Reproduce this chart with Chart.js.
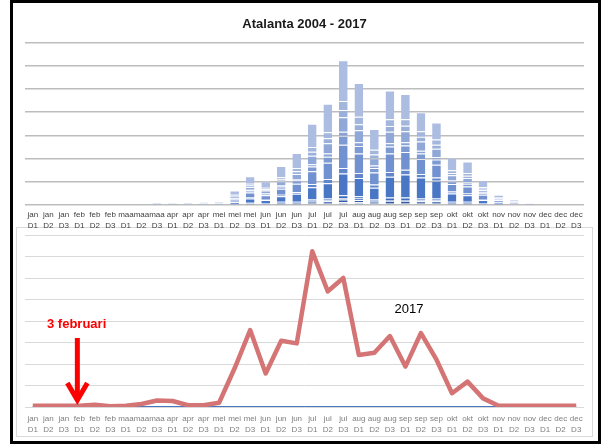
<!DOCTYPE html>
<html>
<head>
<meta charset="utf-8">
<script src="https://cdn.jsdelivr.net/npm/chart.js@4.4.1/dist/chart.umd.min.js"></script>
<style>
  html, body { margin: 0; padding: 0; background: #fff; }
  body { width: 605px; height: 444px; position: relative; overflow: hidden; }
  #frame { position: absolute; left: 10px; top: 0; width: 591px; height: 444px; border: 3px solid #000; box-sizing: border-box; }
  #topWrap { position: absolute; left: 0; top: 0; width: 605px; height: 232px; }
  #bottomWrap { position: absolute; left: 16px; top: 227px; width: 577px; height: 210px; border: 1px solid #d9d9d9; box-sizing: border-box; background: #fff; }
  #bottomWrap canvas { position: absolute; left: 0; top: 0; }
</style>
</head>
<body>
<div id="frame"></div>
<div id="bottomWrap"><canvas id="lineChart" width="575" height="208"></canvas></div>
<div id="topWrap"><canvas id="barChart" width="605" height="232"></canvas></div>
<script>
// categories: month + decade
const months = ['jan', 'feb', 'maa', 'apr', 'mei', 'jun', 'jul', 'aug', 'sep', 'okt', 'nov', 'dec'];
const decades = ['D1', 'D2', 'D3'];
const labels = [];
months.forEach(m => decades.forEach(d => labels.push([m, d])));

// top chart: counts per decade, one series per year (stacked, 2004 at the bottom)
const years = ['2004', '2005', '2006', '2007', '2008', '2009', '2010', '2011', '2012', '2013', '2014', '2015', '2016', '2017'];
const y2004 = [0,0,0,0,0,0, 0,0,0,0,0,0,0, 0,1,0,1,1,2,2,3,3,2,2,2,2,2,1,1,0,0,0,0, 0,0,0];
const y2005 = [0,0,0,0,0,0, 0,0,0,0,0,0,0, 0,1,1,1,1,2,2,3,3,2,2,2,2,2,1,1,1,0,0,0, 0,0,0];
const y2006 = [0,0,0,0,0,0, 0,0,0,0,0,0,0, 1,1,1,2,2,3,4,6,5,3,5,5,4,4,2,2,1,1,0,0, 0,0,0];
const y2007 = [0,0,0,0,0,0, 0,0,0,0,0,0,0, 0,1,0,1,1,2,2,3,3,2,2,2,2,2,1,1,0,0,0,0, 0,0,0];
const y2008 = [0,0,0,0,0,0, 0,0,0,0,0,0,0, 1,1,1,2,2,3,4,6,5,3,5,5,4,4,2,2,1,0,0,0, 0,0,0];
const y2009 = [0,0,0,0,0,0, 0,0,1,1,0,1,1, 4,9,8,12,17,26,33,47,39,25,45,50,45,38,18,14,8,4,2,1, 0,0,0];
const y2010 = [0,0,0,0,0,0, 0,0,0,0,0,0,0, 1,3,2,3,4,7,9,12,11,7,10,10,8,7,4,4,2,1,0,0, 0,0,0];
const y2011 = [0,0,0,0,0,0, 0,1,1,1,1,1,1, 5,10,8,13,18,28,35,50,42,26,40,38,32,28,16,15,9,4,2,1, 0,0,0];
const y2012 = [0,0,0,0,0,0, 0,0,0,0,0,0,1, 2,4,3,5,7,10,13,19,16,10,15,14,12,11,6,6,3,1,1,0, 0,0,0];
const y2013 = [0,0,0,0,0,0, 0,0,0,0,0,0,0, 1,2,2,3,3,5,7,9,8,5,7,7,6,5,3,3,2,1,0,0, 0,0,0];
const y2014 = [0,0,0,0,0,0, 0,0,0,1,1,1,1, 3,6,5,8,11,18,22,31,26,16,25,24,20,18,10,9,5,2,1,0, 0,0,0];
const y2015 = [0,0,0,0,0,0, 0,0,0,0,0,0,0, 2,3,3,4,6,9,11,16,13,8,12,12,10,9,5,5,3,1,1,0, 0,0,0];
const y2016 = [0,0,0,0,0,0, 0,0,0,0,0,1,1, 2,4,3,5,7,10,13,19,16,10,15,14,12,11,6,6,3,1,1,0, 0,0,0];
const y2017 = [0,0,0,0,0,0, 1,2,2,2,2,2,2, 9,16,14,24,32,50,61,88,73,45,62,54,41,37,27,25,16,6,3,1, 0,0,0];
const yearSeries = [y2004, y2005, y2006, y2007, y2008, y2009, y2010, y2011, y2012, y2013, y2014, y2015, y2016, y2017];
const yearColors = ['#2a4a88', '#2e5396', '#335ba6', '#3864b4', '#3e6bbf', '#4a76c6', '#6286cb', '#7291d0', '#7e9ad3', '#88a2d6', '#90a8d8', '#9ab0db', '#a3b6de', '#adbde2'];

// bottom chart: 2017 per decade + flat reference line
const line2017 = [0.3,0.3,0.3, 0.3,0.5,0.2, 0.3,0.7,1.5, 1.4,0.4,0.4, 1.0,9.0,17.9, 7.8,15.4,14.8, 36.2,26.9,30.0, 12.1,12.6,16.5, 9.4,17.2,11.0, 3.2,5.9,2.0, 0.3,0.3,0.3, 0.3,0.3,0.3];
const baseLine = [0,0,0, 0,0,0, 0,0,0, 0,0,0, 0,0,0, 0,0,0, 0,0,0, 0,0,0, 0,0,0, 0,0,0, 0,0,0, 0,0,0];

const labelFont = { family: '"Liberation Sans", Arial, sans-serif', size: 8, lineHeight: 1.4 };

new Chart(document.getElementById('barChart'), {
  type: 'bar',
  data: {
    labels: labels,
    datasets: yearSeries.map((d, i) => ({
      label: years[i],
      data: d,
      backgroundColor: yearColors[i],
      borderColor: 'rgba(255,255,255,0.22)',
      borderWidth: { top: 1, left: 0, right: 0, bottom: 0 },
      borderSkipped: false,
      barPercentage: 0.56,
      categoryPercentage: 1
    }))
  },
  options: {
    responsive: false,
    animation: false,
    layout: { padding: { left: 25, right: 21, top: 0, bottom: 0 } },
    plugins: {
      legend: { display: false },
      tooltip: { enabled: false },
      title: {
        display: true,
        text: 'Atalanta 2004 - 2017',
        color: '#1a1a1a',
        font: { family: '"Liberation Sans", sans-serif', size: 13, weight: 'bold' },
        padding: { top: 17, bottom: 10 }
      }
    },
    scales: {
      x: {
        stacked: true,
        grid: { display: false, drawTicks: false },
        border: { display: false },
        ticks: { color: '#404040', font: labelFont, autoSkip: false, maxRotation: 0, padding: 4 },
        afterFit: s => { s.height = 27; }
      },
      y: {
        stacked: true,
        min: 0,
        max: 350,
        ticks: { display: false, stepSize: 50 },
        grid: { color: '#bdbdbd', lineWidth: 1.5, drawTicks: false },
        border: { display: false },
        afterFit: s => { s.width = 0; }
      }
    }
  }
});

const notes = {
  id: 'notes',
  afterDatasetsDraw(chart) {
    const ctx = chart.ctx;
    const ax = chart.scales.x.getPixelForValue(3) - 2;
    ctx.save();
    ctx.strokeStyle = '#ff0000';
    ctx.lineWidth = 5;
    ctx.beginPath();
    ctx.moveTo(ax, 110);
    ctx.lineTo(ax, 170);
    ctx.stroke();
    ctx.lineJoin = 'miter';
    ctx.beginPath();
    ctx.moveTo(ax - 10, 155);
    ctx.lineTo(ax, 172);
    ctx.lineTo(ax + 10, 155);
    ctx.stroke();
    ctx.fillStyle = '#ff0000';
    ctx.font = 'bold 13px "Liberation Sans", sans-serif';
    ctx.textBaseline = 'middle';
    ctx.textAlign = 'left';
    ctx.fillText('3 februari', 30, 96);
    ctx.fillStyle = '#000';
    ctx.font = '13px "Liberation Sans", sans-serif';
    ctx.textAlign = 'center';
    ctx.fillText('2017', 392, 81);
    ctx.restore();
  }
};

new Chart(document.getElementById('lineChart'), {
  type: 'line',
  data: {
    labels: labels,
    datasets: [
      {
        label: '2017',
        data: line2017,
        borderColor: '#d47474',
        borderWidth: 4.5,
        borderJoinStyle: 'round',
        pointRadius: 0,
        tension: 0,
        order: 1
      },
      {
        label: 'basis',
        data: baseLine,
        borderColor: '#4a76c6',
        borderWidth: 2,
        pointRadius: 0,
        tension: 0,
        order: 2
      }
    ]
  },
  options: {
    responsive: false,
    animation: false,
    layout: { padding: { left: 8, right: 8, top: 7, bottom: 0 } },
    plugins: { legend: { display: false }, tooltip: { enabled: false } },
    scales: {
      x: {
        offset: true,
        grid: { display: false, drawTicks: false },
        border: { display: false },
        ticks: { color: '#7f7f7f', font: labelFont, autoSkip: false, maxRotation: 0, padding: 6 },
        afterFit: s => { s.height = 29; }
      },
      y: {
        min: 0,
        max: 40,
        ticks: { display: false, stepSize: 5 },
        grid: { color: '#d9d9d9', lineWidth: 1, drawTicks: false },
        border: { display: false },
        afterFit: s => { s.width = 0; }
      }
    }
  },
  plugins: [notes]
});
</script>
</body>
</html>
